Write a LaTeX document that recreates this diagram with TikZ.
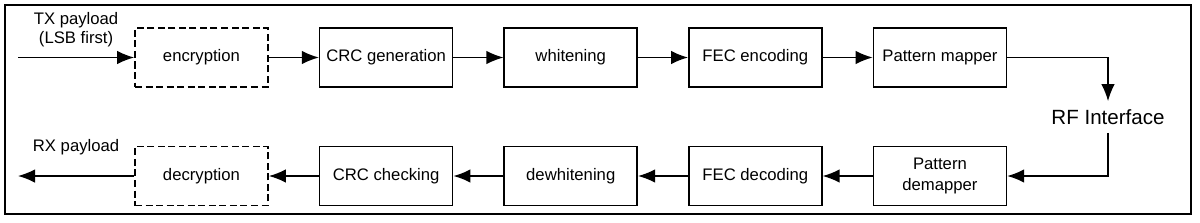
\documentclass[tikz,border=0pt]{standalone}
\usepackage{fontspec}
\setmainfont{Liberation Sans}
\usetikzlibrary{arrows.meta, positioning}
\tikzset{
  block/.style={rectangle, minimum width=2.66cm, minimum height=1.18cm,
    text centered, align=center, draw=black, line width=0.9pt,
    font=\fontsize{9.5}{12}\selectfont},
  cryptblock/.style={block, line width=1pt, dash pattern=on 4pt off 2pt},
  arrow/.style={-{Latex[length=3.4mm,width=2.7mm]}, line width=0.8pt, color=black}
}
\begin{document}
\begin{tikzpicture}[node distance=1.0cm]
\useasboundingbox (0,0) rectangle (24,-4.44);
\draw[line width=0.9pt] (0.1,-0.1) rectangle (23.82,-4.28);
% transmit chain
\node (enc)    [cryptblock] at (4.03,-1.15) {encryption};
\node (crcgen) [block, right=of enc]    {CRC generation};
\node (white)  [block, right=of crcgen] {whitening};
\node (fecenc) [block, right=of white]  {FEC encoding};
\node (pmap)   [block, right=of fecenc] {Pattern mapper};
\node (rf) [font=\fontsize{11.7}{14}\selectfont, minimum height=0.62cm,
            inner sep=0pt] at (22.16,-2.34) {RF Interface};
% receive chain
\node (dec)    [cryptblock] at (4.03,-3.52) {decryption};
\node (crcchk) [block, right=of dec]    {CRC checking};
\node (dewhite)[block, right=of crcchk] {dewhitening};
\node (fecdec) [block, right=of dewhite]{FEC decoding};
\node (pdemap) [block, right=of fecdec] {Pattern\\demapper};
\coordinate (txin)  at (0.36,-1.15);
\coordinate (rxout) at (0.36,-3.52);

\draw[arrow] (txin) -- node[above=2pt, align=center,
  font=\fontsize{9.5}{10.8}\selectfont]{TX payload\\(LSB first)} (enc);
\draw[arrow] (enc)    -- (crcgen);
\draw[arrow] (crcgen) -- (white);
\draw[arrow] (white)  -- (fecenc);
\draw[arrow] (fecenc) -- (pmap);
\draw[arrow] (pmap)   -| (rf.north);
\draw[arrow] (rf.south) |- (pdemap);
\draw[arrow] (pdemap) -- (fecdec);
\draw[arrow] (fecdec) -- (dewhite);
\draw[arrow] (dewhite)-- (crcchk);
\draw[arrow] (crcchk) -- (dec);
\draw[arrow] (dec) -- node[above=8pt,
  font=\fontsize{9.5}{12}\selectfont]{RX payload} (rxout);
\end{tikzpicture}
\end{document}
